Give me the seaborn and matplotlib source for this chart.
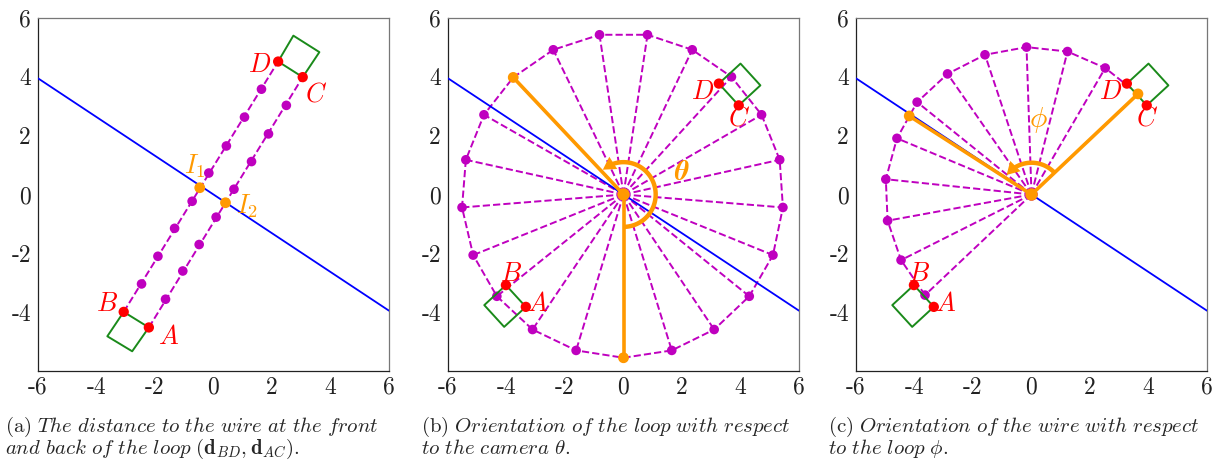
import numpy as np
import matplotlib
matplotlib.use("Agg")
import matplotlib.pyplot as plt
import seaborn as sns

# ---------------- data ----------------
# wire (blue line)
wire_x = [-6.0, 6.0]
wire_y = [3.95, -3.95]

# panel (a): loop corners and sample points along the two long sides
a_pts_x = [-2.21, -3.07, 3.05, 2.21]     # A, B, C, D
a_pts_y = [-4.52, -3.99, 3.99, 4.52]
a_bd_x = [-2.46, -1.90, -1.33, -0.73, -0.16, 0.44, 1.06, 1.64]
a_bd_y = [-3.04, -2.10, -1.15, -0.23, 0.73, 1.65, 2.63, 3.58]
a_ac_x = [-1.64, -1.05, -0.49, 0.09, 0.70, 1.30, 1.88, 2.49]
a_ac_y = [-3.56, -2.60, -1.70, -0.77, 0.18, 1.12, 2.06, 3.03]
a_int_x = [-0.47, 0.41]                   # I1, I2
a_int_y = [0.23, -0.28]
a_sq_lo_x = [-3.07, -2.21, -2.78, -3.63]
a_sq_lo_y = [-3.99, -4.52, -5.33, -4.82]
a_sq_hi_x = [2.21, 3.05, 3.62, 2.73]
a_sq_hi_y = [4.52, 3.99, 4.84, 5.40]
a_lbl_x = [-1.55, -3.64, 3.52, 1.59]
a_lbl_y = [-4.84, -3.71, 3.41, 4.41]
a_int_lbl_x = [-0.64, 1.13]
a_int_lbl_y = [0.95, -0.41]

# panels (b), (c): loop corners
bc_pts_x = [-3.34, -4.02, 3.94, 3.26]     # A, B, C, D
bc_pts_y = [-3.82, -3.08, 3.03, 3.77]
bc_sq_lo_x = [-4.02, -3.34, -4.08, -4.76]
bc_sq_lo_y = [-3.08, -3.82, -4.50, -3.76]
bc_sq_hi_x = [3.26, 3.94, 4.68, 4.00]
bc_sq_hi_y = [3.77, 3.03, 3.71, 4.45]
bc_lbl_x = [-2.94, -3.85, 3.94, 2.72]
bc_lbl_y = [-3.73, -2.69, 2.60, 3.47]

# panel (b): camera positions around the loop
b_circ_x = [0.00, 1.65, 3.10, 4.30, 5.11, 5.45, 5.34, 4.72, 3.69, 2.35, 0.82,
            -0.82, -2.40, -3.77, -4.77, -5.39, -5.52, -5.14, -4.33, -3.11, -1.62]
b_circ_y = [-5.55, -5.30, -4.59, -3.46, -2.06, -0.44, 1.18, 2.71, 4.00, 4.92, 5.43,
            5.43, 4.92, 3.98, 2.71, 1.18, -0.44, -2.06, -3.46, -4.59, -5.30]
b_sel = [0, 13]
b_arc = (-90.0, 130.0, 1.1)              # start deg, end deg, radius
b_theta_lbl = (2.0, 0.78)

# panel (c): wire orientations around the loop
c_fan_x = [-3.64, -4.46, -4.92, -4.98, -4.60, -3.91, -2.87, -1.59, -0.17, 1.23, 2.52, 3.64]
c_fan_y = [-3.42, -2.23, -0.89, 0.52, 1.91, 3.14, 4.10, 4.75, 5.01, 4.86, 4.30, 3.42]
c_sel_x = [3.64, -4.18]
c_sel_y = [3.42, 2.67]
c_arc = (44.0, 142.0, 1.08)
c_phi_lbl = (0.23, 2.54)

labels_abcd = ["A", "B", "C", "D"]
ticks = [-6, -4, -2, 0, 2, 4, 6]
tick_labels = ["-6", "-4", "-2", "0", "2", "4", "6"]

captions = [
    (r"$\mathrm{(a)}\ \mathit{The\ distance\ to\ the\ wire\ at\ the\ front}$",
     r"$\mathit{and\ back\ of\ the\ loop}\ (\mathbf{d}_{BD},\mathbf{d}_{AC}).$"),
    (r"$\mathrm{(b)}\ \mathit{Orientation\ of\ the\ loop\ with\ respect}$",
     r"$\mathit{to\ the\ camera}\ \mathbf{\theta}.$"),
    (r"$\mathrm{(c)}\ \mathit{Orientation\ of\ the\ wire\ with\ respect}$",
     r"$\mathit{to\ the\ loop}\ \mathbf{\phi}.$"),
]

# ---------------- style ----------------
sns.set_theme(style="white")
plt.rcParams["mathtext.fontset"] = "cm"
plt.rcParams["font.family"] = ["DejaVu Sans"]

MAG = "#bf00bf"
ORA = "#ff9900"
RED = "#ff0000"
GRN = "#1a8a1a"
BLU = "#0000ff"
LW_DASH = 1.4
S_MAG, S_RED, S_ORA, S_CEN = 48, 55, 60, 80

W, H = 1213, 461
fig = plt.figure(figsize=(W / 100, H / 100), dpi=100)
lefts = [38, 448, 856]
axes = []
for lx in lefts:
    ax = fig.add_axes([lx / W, (H - 371) / H, 351 / W, 353 / H])
    axes.append(ax)


def style_axes(ax):
    ax.set_xlim(-6, 6)
    ax.set_ylim(-6, 6)
    ax.set_xticks(ticks)
    ax.set_yticks(ticks)
    ax.set_xticklabels(tick_labels, fontfamily="cmr10", fontsize=17)
    ax.set_yticklabels([""] + tick_labels[1:], fontfamily="cmr10", fontsize=17)
    ax.tick_params(axis="x", direction="in", length=4, width=0.8, pad=4, colors="#222")
    ax.tick_params(axis="y", direction="out", length=4, width=0.8, pad=1, colors="#222")
    for s in ["left", "bottom"]:
        ax.spines[s].set_color("#222")
        ax.spines[s].set_linewidth(0.9)
    for s in ["top", "right"]:
        ax.spines[s].set_color("#777")
        ax.spines[s].set_linewidth(0.9)
    ax.grid(False)
    ax.set_facecolor("white")


def dots(ax, x, y, color, s, z):
    sns.scatterplot(x=x, y=y, ax=ax, color=color, s=s, edgecolor="none",
                    linewidth=0, zorder=z, legend=False)


def square(ax, xs, ys):
    ax.plot(list(xs) + [xs[0]], list(ys) + [ys[0]], color=GRN, lw=1.4, zorder=4)


def wire(ax):
    sns.lineplot(x=wire_x, y=wire_y, ax=ax, color=BLU, lw=1.3, sort=False,
                 estimator=None, zorder=3)


def corner_labels(ax, lx, ly):
    for t, x, y in zip(labels_abcd, lx, ly):
        ax.text(x, y, f"${t}$", color=RED, fontsize=19, ha="center", va="center", zorder=7)


def arc_arrow(ax, start, end, r):
    t = np.radians(np.linspace(start, end - 12, 100))
    ax.plot(r * np.cos(t), r * np.sin(t), color=ORA, lw=3.2, zorder=6,
            solid_capstyle="butt")
    t0, t1 = np.radians(end - 14), np.radians(end)
    ax.annotate("", xy=(r * np.cos(t1), r * np.sin(t1)),
                xytext=(r * np.cos(t0), r * np.sin(t0)),
                arrowprops=dict(arrowstyle="-|>,head_length=0.6,head_width=0.35",
                                color=ORA, lw=0, mutation_scale=15,
                                shrinkA=0, shrinkB=0), zorder=6)


# ---------------- panel (a) ----------------
ax = axes[0]
style_axes(ax)
ax.plot([a_pts_x[1], a_pts_x[3]], [a_pts_y[1], a_pts_y[3]], color=MAG, lw=LW_DASH, ls="--", zorder=2)
ax.plot([a_pts_x[0], a_pts_x[2]], [a_pts_y[0], a_pts_y[2]], color=MAG, lw=LW_DASH, ls="--", zorder=2)
dots(ax, a_bd_x, a_bd_y, MAG, S_MAG, 3)
dots(ax, a_ac_x, a_ac_y, MAG, S_MAG, 3)
wire(ax)
square(ax, a_sq_lo_x, a_sq_lo_y)
square(ax, a_sq_hi_x, a_sq_hi_y)
dots(ax, a_pts_x, a_pts_y, RED, S_RED, 5)
dots(ax, a_int_x, a_int_y, ORA, S_ORA, 6)
corner_labels(ax, a_lbl_x, a_lbl_y)
for i, (x, y) in enumerate(zip(a_int_lbl_x, a_int_lbl_y)):
    ax.text(x, y, f"$I_{i + 1}$", color=ORA, fontsize=19, ha="center", va="center", zorder=7)

# ---------------- panel (b) ----------------
ax = axes[1]
style_axes(ax)
cx = b_circ_x + [b_circ_x[0]]
cy = b_circ_y + [b_circ_y[0]]
ax.plot(cx, cy, color=MAG, lw=LW_DASH, ls="--", zorder=2)
for x, y in zip(b_circ_x, b_circ_y):
    ax.plot([0, x], [0, y], color=MAG, lw=LW_DASH, ls="--", zorder=2)
dots(ax, b_circ_x, b_circ_y, MAG, S_MAG, 3)
dots(ax, [0], [0], MAG, S_CEN, 3)
wire(ax)
square(ax, bc_sq_lo_x, bc_sq_lo_y)
square(ax, bc_sq_hi_x, bc_sq_hi_y)
dots(ax, bc_pts_x, bc_pts_y, RED, S_RED, 5)
corner_labels(ax, bc_lbl_x, bc_lbl_y)
for k in b_sel:
    ax.plot([0, b_circ_x[k]], [0, b_circ_y[k]], color=ORA, lw=2.6, zorder=5)
dots(ax, [b_circ_x[k] for k in b_sel], [b_circ_y[k] for k in b_sel], ORA, S_ORA, 6)
dots(ax, [0], [0], ORA, S_CEN, 6)
arc_arrow(ax, *b_arc)
ax.text(*b_theta_lbl, r"$\mathbfit{\theta}$", math_fontfamily="stix", color=ORA,
        fontsize=20, ha="center", va="center", zorder=7)

# ---------------- panel (c) ----------------
ax = axes[2]
style_axes(ax)
ax.plot(c_fan_x, c_fan_y, color=MAG, lw=LW_DASH, ls="--", zorder=2)
for x, y in zip(c_fan_x, c_fan_y):
    ax.plot([0, x], [0, y], color=MAG, lw=LW_DASH, ls="--", zorder=2)
dots(ax, c_fan_x[:-1], c_fan_y[:-1], MAG, S_MAG, 3)
dots(ax, [0], [0], MAG, S_CEN, 3)
wire(ax)
square(ax, bc_sq_lo_x, bc_sq_lo_y)
square(ax, bc_sq_hi_x, bc_sq_hi_y)
dots(ax, bc_pts_x, bc_pts_y, RED, S_RED, 5)
corner_labels(ax, bc_lbl_x, bc_lbl_y)
for x, y in zip(c_sel_x, c_sel_y):
    ax.plot([0, x], [0, y], color=ORA, lw=2.6, zorder=5)
dots(ax, c_sel_x, c_sel_y, ORA, S_ORA, 6)
dots(ax, [0], [0], ORA, S_CEN, 6)
arc_arrow(ax, *c_arc)
ax.text(*c_phi_lbl, r"$\phi$", color=ORA, fontsize=21, ha="center", va="center", zorder=7)

# ---------------- captions ----------------
cap_x = [5, 421, 828]
for x, (l1, l2) in zip(cap_x, captions):
    fig.text(x / W, 1 - 432 / H, l1, fontsize=15, ha="left", va="baseline")
    fig.text(x / W, 1 - 454 / H, l2, fontsize=15, ha="left", va="baseline")

fig.savefig("out.png", dpi=100, facecolor="white")
